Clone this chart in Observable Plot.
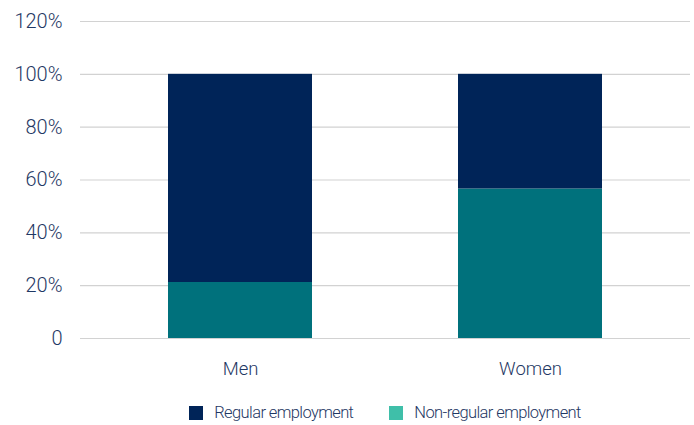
<!DOCTYPE html>
<html>
<head>
<meta charset="utf-8">
<script src="https://cdn.jsdelivr.net/npm/d3@7"></script>
<script src="https://cdn.jsdelivr.net/npm/@observablehq/plot@0.6"></script>
<style>
  html, body { margin: 0; padding: 0; background: #fff; }
  body { width: 694px; font-family: Roboto, sans-serif; font-weight: 300; color: #1f3864; }
  #legend { box-sizing: border-box; width: 694px; display: flex; justify-content: center; gap: 36px; margin-top: 11px; font-size: 16.5px; letter-spacing: -0.6px; color: #1f3864; padding-left: 76px; }
  .item { display: flex; align-items: center; gap: 11px; }
  .sw { width: 14px; height: 14px; display: inline-block; }
</style>
</head>
<body>
<div id="chart"></div>
<div id="legend"></div>
<script>
const categories = ["Men", "Women"];
const series = ["Non-regular employment", "Regular employment"];
const nonRegular = [21.2, 56.6];
const regular = [78.8, 43.4];
const yTicks = [0, 20, 40, 60, 80, 100, 120];
const barColors = {"Regular employment": "#002458", "Non-regular employment": "#00717c"};
const legendItems = ["Regular employment", "Non-regular employment"];
const legendColors = ["#002458", "#3fbfa9"];

const data = [];
categories.forEach((c, i) => {
  data.push({cat: c, series: series[0], value: nonRegular[i]});
  data.push({cat: c, series: series[1], value: regular[i]});
});

const plot = Plot.plot({
  width: 694,
  height: 392,
  marginLeft: 80,
  marginRight: 4,
  marginTop: 21,
  marginBottom: 54,
  style: {fontFamily: 'Roboto, sans-serif', fontWeight: 300, fontSize: "20px", color: "#1f3864", background: "#fff"},
  x: {domain: categories, paddingInner: 0.505, paddingOuter: 0.303, label: null},
  y: {domain: [0, 120], label: null},
  color: {domain: series, range: [barColors["Non-regular employment"], barColors["Regular employment"]]},
  marks: [
    Plot.ruleY(yTicks, {stroke: "#d2d2d2", strokeWidth: 1.2}),
    Plot.barY(data, Plot.stackY({order: series}, {x: "cat", y: "value", fill: "series"})),
    Plot.axisY(yTicks, {tickSize: 0, tickPadding: 18, fill: "#1f3864", fontSize: 20, fontWeight: 300, tickFormat: d => d === 0 ? "0" : d + "%"}),
    Plot.axisX({tickSize: 0, tickPadding: 23, fill: "#1f3864", fontSize: 18.5, fontWeight: 300, label: null})
  ]
});
document.getElementById("chart").appendChild(plot);

const lg = d3.select("#legend");
legendItems.forEach((name, i) => {
  const it = lg.append("div").attr("class", "item");
  it.append("span").attr("class", "sw").style("background", legendColors[i]);
  it.append("span").text(name);
});
</script>
</body>
</html>
